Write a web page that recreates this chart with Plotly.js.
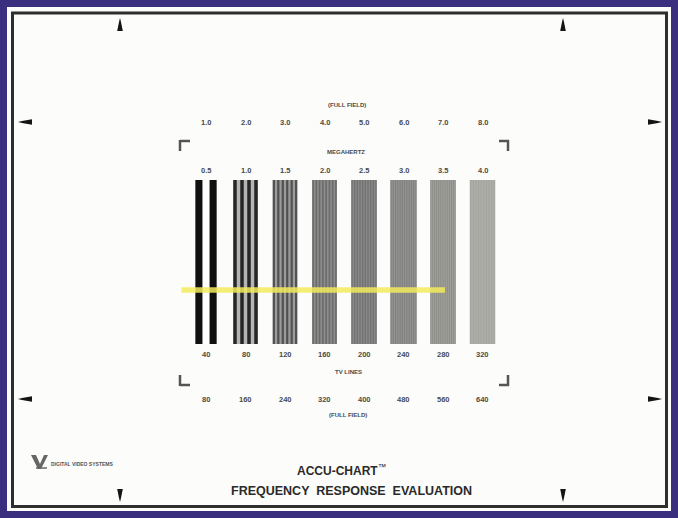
<!DOCTYPE html>
<html>
<head>
<meta charset="utf-8">
<script src="https://cdn.plot.ly/plotly-3.0.1.min.js"></script>
<style>html,body{margin:0;padding:0;background:#3a2f7f;}#chart{width:678px;height:518px;}</style>
</head>
<body>
<div id="chart"></div>
<script>
// ---- data ----
const groups = [1, 2, 3, 4, 5, 6, 7, 8];
const mhzFullField = ['1.0', '2.0', '3.0', '4.0', '5.0', '6.0', '7.0', '8.0'];
const mhzHalf = ['0.5', '1.0', '1.5', '2.0', '2.5', '3.0', '3.5', '4.0'];
const tvLines = ['40', '80', '120', '160', '200', '240', '280', '320'];
const tvLinesFullField = ['80', '160', '240', '320', '400', '480', '560', '640'];
const lineCounts = [2, 4, 6, 8, 10, 12, 14, 16];
const responseLevel = 33;          // % of burst height where the yellow marker sits
const responseStart = 0.38;        // group index where marker starts
const responseEnd = 7.05;          // group index where marker ends

// ---- styles ----
const groupWidth = [0.54, 0.62, 0.62, 0.62, 0.64, 0.66, 0.64, 0.64];
const bgColors = ['#ffffff', '#b4b4b4', '#9c9c9c', '#8d8d8d', '#8a8a8a', '#949493', '#a2a29e', '#b3b3ae'];
const stripeColors = ['#101010', '#262626', '#525252', '#6c6c6c', '#717171', '#808080', '#8c8c87', '#a2a29d'];

const W = 678, H = 518;
const px = p => p / W;
const py = p => 1 - p / H;

// background burst blocks
const bg = {
  type: 'bar', x: groups, y: groups.map(() => 100), base: groups.map(() => 0),
  width: groupWidth, marker: {color: bgColors, line: {width: 0}}, hoverinfo: 'skip', showlegend: false
};
// stripes within each burst
const sx = [], sw = [], sc = [];
groups.forEach((g, i) => {
  const n = lineCounts[i];
  const w = groupWidth[i] / (2 * n - 1);
  const left = g - groupWidth[i] / 2;
  for (let k = 0; k < n; k++) {
    sx.push(left + (2 * k + 0.5) * w);
    sw.push(w);
    sc.push(stripeColors[i]);
  }
});
const stripes = {
  type: 'bar', x: sx, y: sx.map(() => 100), base: sx.map(() => 0),
  width: sw, marker: {color: sc, line: {width: 0}}, hoverinfo: 'skip', showlegend: false
};
const marker = {
  type: 'scatter', mode: 'lines', x: [responseStart, responseEnd], y: [responseLevel, responseLevel],
  line: {color: 'rgba(242,236,92,0.85)', width: 5.5}, hoverinfo: 'skip', showlegend: false
};

const labFont = {family: 'Liberation Sans, Arial, sans-serif', size: 7.5, color: '#4a4a4a'};
const ann = [];
function rowLabels(texts, yv) {
  texts.forEach((t, i) => ann.push({x: groups[i], y: yv, xref: 'x', yref: 'y', text: '<b>' + t + '</b>',
    showarrow: false, font: labFont, xanchor: 'center', yanchor: 'middle'}));
}
rowLabels(mhzFullField, 134.8);
rowLabels(mhzHalf, 106.1);
rowLabels(tvLines, -6.7);
rowLabels(tvLinesFullField, -34.1);

function pText(t, x, y, size, color) {
  ann.push({x: px(x), y: py(y), xref: 'paper', yref: 'paper', text: t, showarrow: false,
    font: {family: 'Liberation Sans, Arial, sans-serif', size: size, color: color || '#4a4a4a'},
    xanchor: 'center', yanchor: 'middle'});
}
pText('<b>(FULL FIELD)</b>', 347, 105, 6);
pText('<b>MEGAHERTZ</b>', 346, 152, 6);
pText('<b>TV LINES</b>', 348, 372, 6);
pText('<b>(FULL FIELD)</b>', 348, 415, 6);
pText('<b>ACCU-CHART</b><sup>™</sup>', 341, 470, 12, '#2a2a2a');
pText('<b>FREQUENCY  RESPONSE  EVALUATION</b>', 351, 491, 12.5, '#2a2a2a');
pText('<b>DIGITAL VIDEO SYSTEMS</b>', 82, 464, 5, '#555');

const shapes = [];
// paper sheet
shapes.push({type: 'rect', xref: 'paper', yref: 'paper', x0: px(7), x1: px(671), y0: py(511), y1: py(7),
  fillcolor: '#fcfcfa', line: {width: 0}, layer: 'below'});
// frame
shapes.push({type: 'rect', xref: 'paper', yref: 'paper', x0: px(12.5), x1: px(666.5), y0: py(506.5), y1: py(13),
  fillcolor: 'rgba(0,0,0,0)', line: {color: '#2e2e2e', width: 3}, layer: 'below'});

function path(pts, fill) {
  const d = pts.map((p, i) => (i ? 'L' : 'M') + px(p[0]).toFixed(5) + ',' + py(p[1]).toFixed(5)).join(' ') + ' Z';
  shapes.push({type: 'path', xref: 'paper', yref: 'paper', path: d, fillcolor: fill || '#151515', line: {width: 0}});
}
// top arrows (pointing up)
[120, 563].forEach(x => path([[x - 2.8, 31], [x + 2.8, 31], [x + 1, 22], [x, 18], [x - 1, 22]]));
// bottom arrows (pointing down)
[120, 563].forEach(x => path([[x - 2.8, 489], [x + 2.8, 489], [x + 1, 498], [x, 502], [x - 1, 498]]));
// left arrows (pointing left)
[122, 399].forEach(y => path([[32, y - 2.8], [32, y + 2.8], [22, y + 1], [18, y], [22, y - 1]]));
// right arrows (pointing right)
[122, 399].forEach(y => path([[648, y - 2.8], [648, y + 2.8], [658, y + 1], [662, y], [658, y - 1]]));

function lineSeg(x0, y0, x1, y1, c, w) {
  shapes.push({type: 'line', xref: 'paper', yref: 'paper', x0: px(x0), y0: py(y0), x1: px(x1), y1: py(y1),
    line: {color: c || '#555', width: w || 2.5}});
}
// corner brackets
lineSeg(180, 141, 190, 141); lineSeg(180, 140, 180, 151);
lineSeg(499, 141, 509, 141); lineSeg(508, 140, 508, 151);
lineSeg(180, 385, 190, 385); lineSeg(180, 375, 180, 386);
lineSeg(499, 385, 509, 385); lineSeg(508, 375, 508, 386);

// logo
path([[31, 455], [36, 455], [40, 464], [44, 455], [48, 455], [41, 469], [38, 469]], '#666');
lineSeg(36, 468, 47, 468, '#666', 1.5);

const layout = {
  width: W, height: H, margin: {l: 0, r: 0, t: 0, b: 0},
  paper_bgcolor: '#3a2f7f', plot_bgcolor: 'rgba(0,0,0,0)',
  barmode: 'overlay', showlegend: false,
  xaxis: {range: [1 - 206 / 39.5, 1 + (678 - 206) / 39.5], visible: false, fixedrange: true},
  yaxis: {range: [-(518 - 344) / 1.64, 344 / 1.64], visible: false, fixedrange: true},
  annotations: ann, shapes: shapes
};

Plotly.newPlot('chart', [bg, stripes, marker], layout, {displayModeBar: false, staticPlot: true});
</script>
</body>
</html>
